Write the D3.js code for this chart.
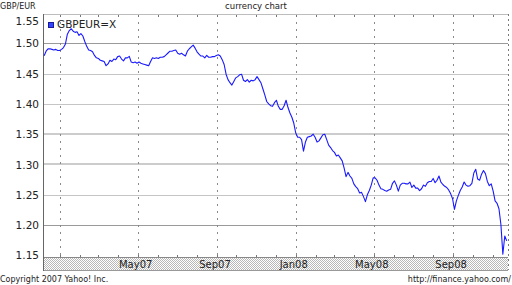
<!DOCTYPE html>
<html><head><meta charset="utf-8">
<script src="https://cdn.jsdelivr.net/npm/d3@7"></script>
<style>html,body{margin:0;padding:0;background:#fff;} svg{display:block;}</style>
</head><body>
<svg id="c" width="512" height="285"></svg>
<script>
const seriesName = "GBPEUR=X";
const startDate = "2006-12-07";
const stepDays = 3;
const rates = [
1.4795,1.487,1.4908,1.491,1.490,1.489,1.490,1.488,1.488,1.490,
1.493,1.499,1.515,1.521,1.524,1.520,1.518,1.519,1.513,1.516,
1.512,1.503,1.495,1.489,1.488,1.486,1.480,1.476,1.475,1.472,
1.471,1.470,1.463,1.466,1.472,1.470,1.474,1.473,1.478,1.479,
1.474,1.471,1.476,1.476,1.4785,1.469,1.468,1.469,1.467,1.469,
1.467,1.466,1.465,1.464,1.463,1.470,1.476,1.475,1.476,1.475,
1.477,1.477,1.478,1.481,1.484,1.487,1.487,1.488,1.489,1.4835,
1.482,1.4835,1.481,1.479,1.487,1.491,1.494,1.497,1.492,1.486,
1.482,1.479,1.479,1.476,1.480,1.477,1.477,1.478,1.478,1.480,
1.481,1.479,1.473,1.465,1.449,1.440,1.435,1.431,1.437,1.443,
1.445,1.448,1.449,1.439,1.437,1.440,1.436,1.439,1.438,1.440,
1.445,1.440,1.435,1.425,1.415,1.404,1.400,1.397,1.396,1.402,
1.406,1.396,1.391,1.391,1.397,1.406,1.394,1.385,1.378,1.368,
1.352,1.345,1.345,1.341,1.322,1.337,1.345,1.346,1.347,1.350,
1.345,1.337,1.339,1.344,1.349,1.350,1.341,1.332,1.328,1.323,
1.320,1.314,1.3157,1.311,1.306,1.294,1.280,1.287,1.281,1.277,
1.268,1.2635,1.260,1.253,1.254,1.247,1.2387,1.250,1.257,1.266,
1.278,1.278,1.274,1.266,1.260,1.259,1.257,1.256,1.258,1.259,
1.269,1.273,1.266,1.256,1.266,1.269,1.269,1.268,1.268,1.271,
1.262,1.266,1.261,1.261,1.257,1.260,1.266,1.264,1.270,1.272,
1.272,1.277,1.270,1.274,1.281,1.271,1.267,1.264,1.262,1.258,
1.252,1.244,1.226,1.240,1.249,1.257,1.263,1.271,1.266,1.264,
1.265,1.269,1.286,1.292,1.276,1.274,1.284,1.290,1.285,1.272,
1.265,1.268,1.256,1.240,1.236,1.227,1.201,1.152,1.182,1.174
];
const yTicks = [1.15,1.20,1.25,1.30,1.35,1.40,1.45,1.50,1.55];
const solidGrid = [1.50,1.20];
const thickGrid = [1.35,1.30];
const dottedGrid = [1.45,1.40,1.25];
const monthLabels = ["May07","Sep07","Jan08","May08","Sep08"];
const labelDates = ["2007-05-01","2007-09-01","2008-01-01","2008-05-01","2008-09-01"];
const gridDates = ["2007-01-01","2007-05-01","2007-09-01","2008-01-01","2008-05-01","2008-09-01"];
const domainDates = ["2006-12-06","2008-11-25"];

const parse = d3.utcParse("%Y-%m-%d");
const start = parse(startDate);
const data = rates.map((v,i)=>({date:d3.utcDay.offset(start,i*stepDays), value:v}));

const L=43.5, R=508, T=13, B=255.4, bandTop=257, bandBot=270;
const x = d3.scaleUtc().domain(domainDates.map(parse)).range([L,R]);
const y = d3.scaleLinear().domain([1.15,1.55]).range([B,T]);

const svg = d3.select("#c");
const font = "'DejaVu Sans', Verdana, sans-serif";

// pattern for band
const defs = svg.append("defs");
const pat = defs.append("pattern").attr("id","dither").attr("width",2).attr("height",2).attr("patternUnits","userSpaceOnUse");
pat.append("rect").attr("width",2).attr("height",2).attr("fill","#ffffff");
pat.append("rect").attr("width",1).attr("height",1).attr("fill","#b8b8b8");
pat.append("rect").attr("x",1).attr("y",1).attr("width",1).attr("height",1).attr("fill","#b8b8b8");

// horizontal grid
const g = svg.append("g");
g.selectAll(".hs").data(solidGrid).join("line")
  .attr("x1",L).attr("x2",R).attr("y1",d=>Math.round(y(d))+0.5).attr("y2",d=>Math.round(y(d))+0.5)
  .attr("stroke","#9a9a9a").attr("stroke-width",1);
g.selectAll(".ht").data(thickGrid).join("line")
  .attr("x1",L).attr("x2",R).attr("y1",d=>Math.round(y(d))).attr("y2",d=>Math.round(y(d)))
  .attr("stroke","#cccccc").attr("stroke-width",2);
g.selectAll(".hd").data(dottedGrid).join("line")
  .attr("x1",L).attr("x2",R).attr("y1",d=>Math.round(y(d))+0.5).attr("y2",d=>Math.round(y(d))+0.5)
  .attr("stroke","#8a8a8a").attr("stroke-width",1).attr("stroke-dasharray","1,1");

// vertical dashed grid
g.selectAll(".v").data(gridDates).join("line")
  .attr("x1",d=>Math.round(x(parse(d)))+0.5).attr("x2",d=>Math.round(x(parse(d)))+0.5)
  .attr("y1",T+2).attr("y2",bandTop)
  .attr("stroke","#8a8a8a").attr("stroke-width",1).attr("stroke-dasharray","2,5");

// top border dotted
g.append("line").attr("x1",L).attr("x2",R).attr("y1",14.5).attr("y2",14.5)
  .attr("stroke","#7a7a7a").attr("stroke-dasharray","1,1");
// right border dotted
g.append("line").attr("x1",R+0.5).attr("x2",R+0.5).attr("y1",14).attr("y2",bandBot)
  .attr("stroke","#7a7a7a").attr("stroke-dasharray","2,3");

// month ticks
const months = d3.utcMonth.range(x.domain()[0], x.domain()[1]);
g.selectAll(".mt").data(months).join("line")
  .attr("x1",d=>Math.round(x(d))+0.5).attr("x2",d=>Math.round(x(d))+0.5)
  .attr("y1",15).attr("y2",17).attr("stroke","#777");
g.selectAll(".mb").data(months).join("line")
  .attr("x1",d=>Math.round(x(d))+0.5).attr("x2",d=>Math.round(x(d))+0.5)
  .attr("y1",bandTop-2).attr("y2",bandTop).attr("stroke","#777");

// band
svg.append("rect").attr("x",L).attr("y",bandTop).attr("width",R-L).attr("height",bandBot-bandTop)
  .attr("fill","url(#dither)");
svg.append("line").attr("x1",L).attr("x2",R).attr("y1",bandTop+0.5).attr("y2",bandTop+0.5).attr("stroke","#888");
svg.append("line").attr("x1",L).attr("x2",R).attr("y1",bandBot+0.5).attr("y2",bandBot+0.5).attr("stroke","#999");
// left border
svg.append("line").attr("x1",L).attr("x2",L).attr("y1",14).attr("y2",bandBot+1).attr("stroke","#666");

// x labels
svg.selectAll(".xl").data(monthLabels).join("text")
  .attr("x",(d,i)=>x(parse(labelDates[i]))-2).attr("y",268)
  .attr("text-anchor","middle").attr("font-family",font).attr("font-size",10).attr("fill","#222")
  .text(d=>d);

// y labels
svg.selectAll(".yl").data(yTicks).join("text")
  .attr("x",39).attr("y",d=>Math.max(y(d),21)+4)
  .attr("text-anchor","end").attr("font-family",font).attr("font-size",10.5).attr("fill","#222")
  .text(d=>d.toFixed(2));

// line
const line = d3.line().x(d=>x(d.date)).y(d=>y(d.value));
svg.append("path").datum(data).attr("d",line).attr("fill","none")
  .attr("stroke","#1a1aff").attr("stroke-width",1.1).attr("stroke-linejoin","round");

// legend
svg.append("rect").attr("x",48.5).attr("y",22.5).attr("width",5).attr("height",5)
  .attr("fill","#3344ff").attr("stroke","#1a1a99");
svg.append("text").attr("x",57).attr("y",28).attr("font-family",font).attr("font-size",10.5).attr("fill","#222").text(seriesName);

// titles
svg.append("text").attr("x",0).attr("y",9).attr("font-family",font).attr("font-size",8).attr("fill","#222").text("GBP/EUR");
svg.append("text").attr("x",256).attr("y",9).attr("text-anchor","middle").attr("font-family",font).attr("font-size",8.5).attr("fill","#222").text("currency chart");
svg.append("text").attr("x",0).attr("y",282).attr("font-family",font).attr("font-size",8).attr("fill","#222").text("Copyright 2007 Yahoo! Inc.");
svg.append("text").attr("x",511).attr("y",282).attr("text-anchor","end").attr("font-family",font).attr("font-size",8).attr("fill","#222").text("http://finance.yahoo.com/");
</script>
</body></html>
